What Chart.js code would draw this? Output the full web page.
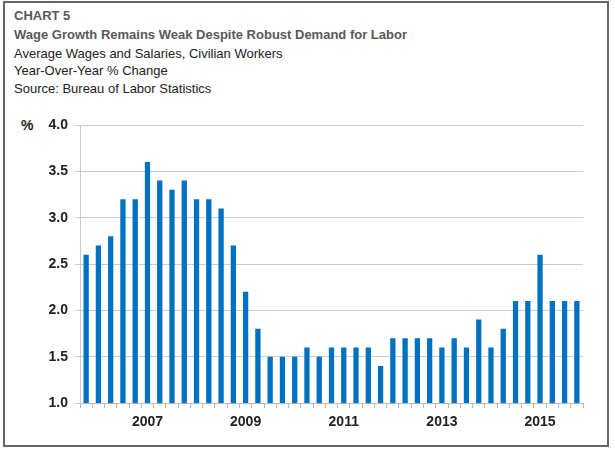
<!DOCTYPE html>
<html>
<head>
<meta charset="utf-8">
<script src="https://cdn.jsdelivr.net/npm/chart.js@4"></script>
<style>
  body { margin: 0; background: #fff; font-family: "Liberation Sans", Arial, sans-serif; }
  #wrap { position: relative; width: 615px; height: 450px; }
  #frame { position: absolute; left: 3px; top: 1px; width: 602px; height: 442px; border: 2px solid #666; }
  .t { position: absolute; left: 14px; font-size: 13px; white-space: nowrap; color: #222; }
  .h { font-weight: bold; color: #595959; }
  #pct { position: absolute; left: 21px; top: 117px; font-size: 14px; font-weight: bold; color: #222; }
  canvas { position: absolute; left: 0; top: 0; }
</style>
</head>
<body>
<div id="wrap">
  <div id="frame"></div>
  <div class="t h" style="top:8px">CHART 5</div>
  <div class="t h" style="top:27px">Wage Growth Remains Weak Despite Robust Demand for Labor</div>
  <div class="t" style="top:46px">Average Wages and Salaries, Civilian Workers</div>
  <div class="t" style="top:63px">Year-Over-Year % Change</div>
  <div class="t" style="top:81px">Source: Bureau of Labor Statistics</div>
  <div id="pct">%</div>
  <canvas id="wageChart" width="615" height="450"></canvas>
</div>
<script>
// Trimestres, 4T2005 a 4T2015 (só os anos ímpares aparecem no eixo)
const quarterLabels = [
  '', '', '', '', '', '2007', '', '', '', '', '', '', '', '2009', '', '', '', '', '', '', '',
  '2011', '', '', '', '', '', '', '', '2013', '', '', '', '', '', '', '', '2015', '', '', ''
];

// Variação anual (%) dos salários
const wageGrowth = [
  2.6, 2.7, 2.8, 3.2, 3.2, 3.6, 3.4, 3.3, 3.4, 3.2, 3.2, 3.1, 2.7, 2.2, 1.8, 1.5, 1.5, 1.5, 1.6, 1.5,
  1.6, 1.6, 1.6, 1.6, 1.4, 1.7, 1.7, 1.7, 1.7, 1.6, 1.7, 1.6, 1.9, 1.6, 1.8, 2.1, 2.1, 2.6, 2.1, 2.1, 2.1
];

const yMin = 1.0;
const yMax = 4.0;
const yStep = 0.5;

const ctx = document.getElementById('wageChart').getContext('2d');
new Chart(ctx, {
    type: 'bar',
    data: {
        labels: quarterLabels,
        datasets: [{
            data: wageGrowth,
            backgroundColor: '#0070c0',
            borderWidth: 0,
            categoryPercentage: 1,
            barPercentage: 0.43
        }]
    },
    options: {
        responsive: false,
        animation: false,
        layout: { padding: { left: 0, top: 125, right: 32, bottom: 0 } },
        plugins: { legend: { display: false }, tooltip: { enabled: false } },
        scales: {
            x: {
                afterFit: function(scale) { scale.height = 47; },
                grid: {
                    offset: true,
                    drawOnChartArea: false,
                    tickLength: 5,
                    color: '#b8b8b8'
                },
                border: { color: '#b8b8b8' },
                ticks: {
                    autoSkip: false,
                    maxRotation: 0,
                    padding: 6,
                    color: '#222',
                    font: { family: 'Liberation Sans', size: 14, weight: 'bold' }
                }
            },
            y: {
                min: yMin,
                max: yMax,
                afterFit: function(scale) { scale.width = 80; },
                grid: { color: '#cccccc', tickLength: 5 },
                border: { color: '#cccccc' },
                ticks: {
                    stepSize: yStep,
                    padding: 7,
                    color: '#222',
                    font: { family: 'Liberation Sans', size: 14, weight: 'bold' },
                    callback: function(v) { return v.toFixed(1); }
                }
            }
        }
    }
});
</script>
</body>
</html>
